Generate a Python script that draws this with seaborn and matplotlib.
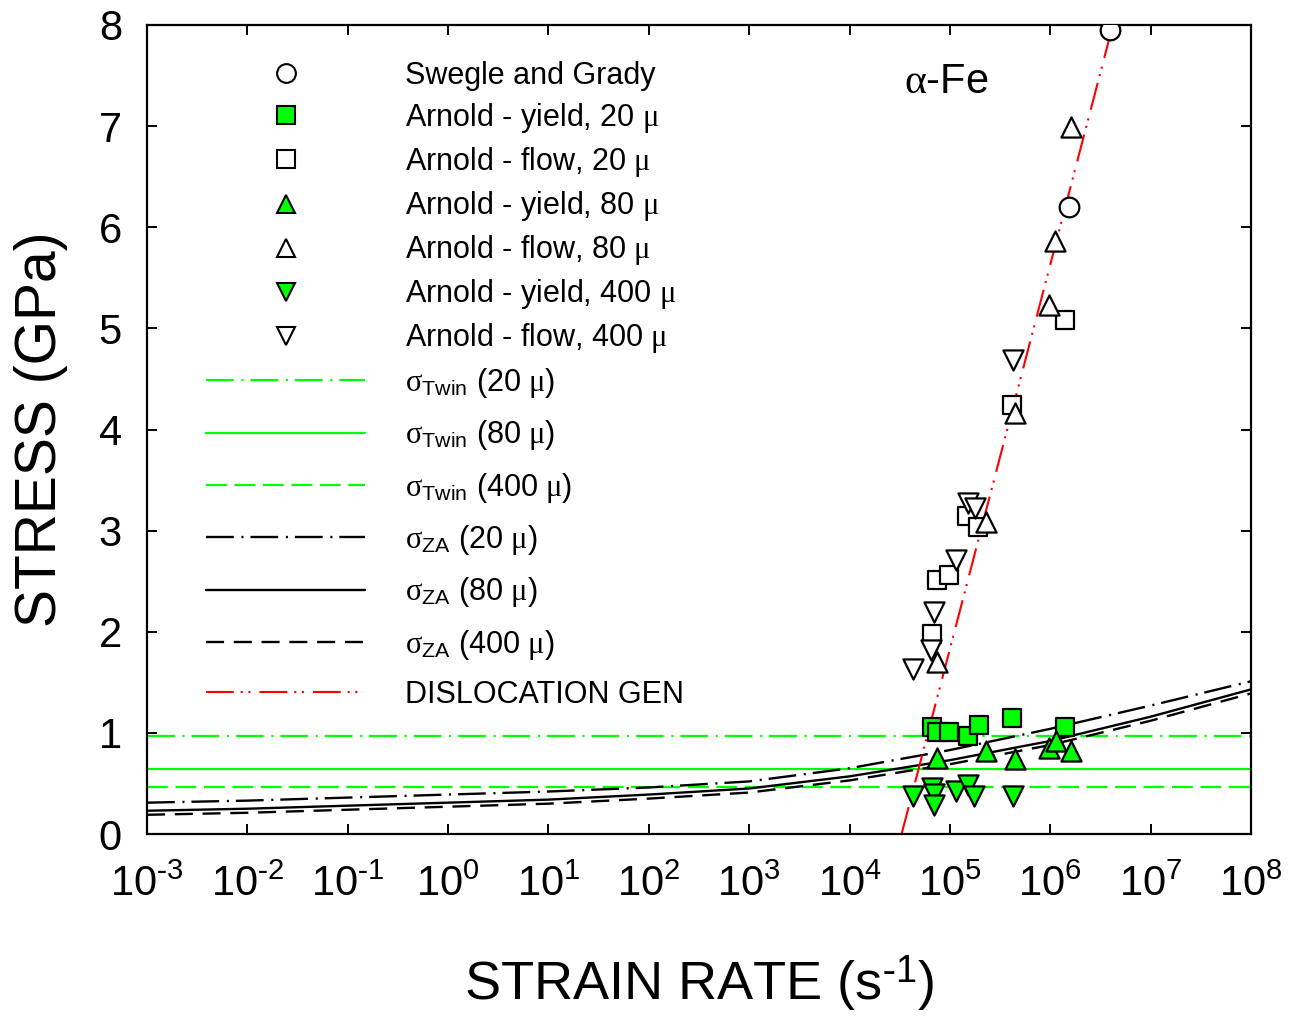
import numpy as np
import pandas as pd
import matplotlib
matplotlib.use("Agg")
import matplotlib.pyplot as plt
import seaborn as sns
from matplotlib.lines import Line2D
from matplotlib.ticker import FixedLocator, NullLocator

# ---------------- data ----------------
sg_rate = [3.98e6, 1.55e6]
sg_stress = [7.95, 6.20]

y20_rate = [6.6e4, 7.4e4, 9.8e4, 1.5e5, 1.95e5, 4.2e5, 1.41e6]
y20_stress = [1.06, 1.01, 1.01, 0.97, 1.08, 1.15, 1.06]
f20_rate = [6.6e4, 7.4e4, 9.8e4, 1.48e5, 1.9e5, 4.2e5, 1.41e6]
f20_stress = [1.98, 2.51, 2.56, 3.14, 3.04, 4.24, 5.08]

y80_rate = [7.4e4, 2.3e5, 4.5e5, 9.8e5, 1.15e6, 1.62e6]
y80_stress = [0.75, 0.82, 0.74, 0.85, 0.92, 0.82]
f80_rate = [7.4e4, 2.3e5, 4.5e5, 9.8e5, 1.12e6, 1.62e6]
f80_stress = [1.70, 3.09, 4.16, 5.23, 5.86, 6.99]

y400_rate = [4.3e4, 6.6e4, 6.9e4, 6.9e4, 1.15e5, 1.5e5, 1.74e5, 4.3e5]
y400_stress = [0.38, 0.45, 0.40, 0.29, 0.43, 0.48, 0.38, 0.38]
f400_rate = [4.3e4, 6.5e4, 6.9e4, 1.15e5, 1.5e5, 1.78e5, 4.3e5]
f400_stress = [1.63, 1.82, 2.20, 2.71, 3.27, 3.22, 4.69]

twin_rate = [1e-3, 1e8]
twin20 = [0.97, 0.97]
twin80 = [0.64, 0.64]
twin400 = [0.46, 0.46]

za_rate = [1e-3, 1e-2, 1e-1, 1e0, 1e1, 1e2, 1e3, 1e4, 1e5, 1e6, 1e7, 1e8]
za20 = [0.31, 0.33, 0.36, 0.39, 0.42, 0.46, 0.52, 0.65, 0.83, 1.04, 1.27, 1.51]
za80 = [0.23, 0.25, 0.28, 0.31, 0.34, 0.39, 0.45, 0.57, 0.73, 0.92, 1.16, 1.43]
za400 = [0.19, 0.21, 0.24, 0.27, 0.30, 0.35, 0.41, 0.53, 0.69, 0.88, 1.12, 1.39]

disl_rate = [3.3e4, 4.2e6]
disl_stress = [0.0, 8.0]

xticks = [1e-3, 1e-2, 1e-1, 1e0, 1e1, 1e2, 1e3, 1e4, 1e5, 1e6, 1e7, 1e8]
xtick_exps = ["-3", "-2", "-1", "0", "1", "2", "3", "4", "5", "6", "7", "8"]
yticks = [0, 1, 2, 3, 4, 5, 6, 7, 8]

# ---------------- style ----------------
sns.set_theme(style="ticks")
plt.rcParams["font.family"] = ["Liberation Sans", "DejaVu Sans"]
plt.rcParams["mathtext.fontset"] = "custom"
plt.rcParams["mathtext.rm"] = "Liberation Serif"
plt.rcParams["mathtext.it"] = "Liberation Serif:italic"
plt.rcParams["mathtext.sf"] = "Liberation Sans"
plt.rcParams["lines.scale_dashes"] = False
for k in ["text.color", "axes.labelcolor", "xtick.color", "ytick.color", "axes.edgecolor"]:
    plt.rcParams[k] = "black"

GREEN = "#00FF00"

fig = plt.figure(figsize=(12.94, 10.17), dpi=100)
ax = fig.add_axes([147/1294, 1 - 834/1017, (1251-147)/1294, (834-25)/1017])

# lines
def line(x, y, color, lw, dashes, label):
    sns.lineplot(x=x, y=y, color=color, linewidth=lw, ax=ax, legend=False, sort=False)
    ln = ax.lines[-1]
    if dashes is not None:
        ln.set_dashes(dashes)
    ln.set_label(label)
    return ln

dd = (20, 5.5, 1.5, 5)
h_t20 = line(twin_rate, twin20, GREEN, 1.6, dd, r"$\mathrm{\sigma}_{\mathsf{Twin}}$ (20 $\mathrm{\mu}$)")
h_t80 = line(twin_rate, twin80, GREEN, 1.6, None, r"$\mathrm{\sigma}_{\mathsf{Twin}}$ (80 $\mathrm{\mu}$)")
h_t400 = line(twin_rate, twin400, GREEN, 1.6, (15, 5.5), r"$\mathrm{\sigma}_{\mathsf{Twin}}$ (400 $\mathrm{\mu}$)")
h_z20 = line(za_rate, za20, "black", 1.7, dd, r"$\mathrm{\sigma}_{\mathsf{ZA}}$ (20 $\mathrm{\mu}$)")
h_z80 = line(za_rate, za80, "black", 1.7, None, r"$\mathrm{\sigma}_{\mathsf{ZA}}$ (80 $\mathrm{\mu}$)")
h_z400 = line(za_rate, za400, "black", 1.7, (13, 7), r"$\mathrm{\sigma}_{\mathsf{ZA}}$ (400 $\mathrm{\mu}$)")
h_d = line(disl_rate, disl_stress, "red", 1.5, (20, 5, 1.5, 4, 1.5, 6.5), "DISLOCATION GEN")

# markers
def pts(x, y, marker, face, label, s=180, lms=13):
    sns.scatterplot(x=x, y=y, marker=marker, s=s, color=face, edgecolor="black",
                    linewidth=1.6, ax=ax, legend=False, zorder=5)
    return Line2D([], [], marker=marker, linestyle="none", markersize=lms,
                  markerfacecolor=face, markeredgecolor="black", markeredgewidth=1.5, label=label)

h_sg = pts(sg_rate, sg_stress, "o", "white", "Swegle and Grady", s=200, lms=13.5)
h_y20 = pts(y20_rate, y20_stress, "s", GREEN, r"Arnold - yield, 20 $\mathrm{\mu}$", s=170, lms=12.5)
h_f20 = pts(f20_rate, f20_stress, "s", "white", r"Arnold - flow, 20 $\mathrm{\mu}$", s=170, lms=12.5)
h_y80 = pts(y80_rate, y80_stress, "^", GREEN, r"Arnold - yield, 80 $\mathrm{\mu}$", s=210, lms=13.5)
h_f80 = pts(f80_rate, f80_stress, "^", "white", r"Arnold - flow, 80 $\mathrm{\mu}$", s=210, lms=13.5)
h_y400 = pts(y400_rate, y400_stress, "v", GREEN, r"Arnold - yield, 400 $\mathrm{\mu}$", s=210, lms=13.5)
h_f400 = pts(f400_rate, f400_stress, "v", "white", r"Arnold - flow, 400 $\mathrm{\mu}$", s=210, lms=13.5)

ax.set_xscale("log")
ax.set_xlim(1e-3, 1e8)
ax.set_ylim(0, 8)
ax.xaxis.set_major_locator(FixedLocator(xticks))
ax.xaxis.set_minor_locator(NullLocator())
ax.set_xticks(xticks)
ax.set_xticklabels([r"$\mathdefault{10^{%s}}$" % e.replace("-", r"\text{-}") for e in xtick_exps])
ax.set_yticks(yticks)
ax.set_yticklabels([str(v) for v in yticks])

for sp in ax.spines.values():
    sp.set_visible(True)
    sp.set_linewidth(1.6)
    sp.set_color("black")
ax.tick_params(axis="both", which="major", direction="in", length=7, width=1.4,
               top=True, right=True, labelsize=30, colors="black")
ax.tick_params(axis="x", pad=22)
ax.tick_params(axis="y", pad=18)

ax.set_xlabel(r"STRAIN RATE (s$^{\mathdefault{\text{-}1}}$)", fontsize=39, labelpad=35)
ax.set_ylabel("STRESS (GPa)", fontsize=41, labelpad=22)

ax.text(0.686, 0.93, r"$\mathrm{\alpha}$-Fe", transform=ax.transAxes, fontsize=30,
        ha="left", va="center")

leg1 = ax.legend(handles=[h_sg, h_y20, h_f20, h_y80, h_f80, h_y400, h_f400],
                 loc="upper left", bbox_to_anchor=(0.0345, 0.982),
                 frameon=False, fontsize=22, handlelength=5.2, handletextpad=1.3,
                 labelspacing=0.33, borderpad=0.2)
ax.add_artist(leg1)
leg2 = ax.legend(handles=[h_t20, h_t80, h_t400, h_z20, h_z80, h_z400, h_d],
                 loc="upper left", bbox_to_anchor=(0.0345, 0.605),
                 frameon=False, fontsize=22, handlelength=5.2, handletextpad=1.3,
                 labelspacing=0.60, borderpad=0.2)

fig.savefig("out.png", dpi=100)
